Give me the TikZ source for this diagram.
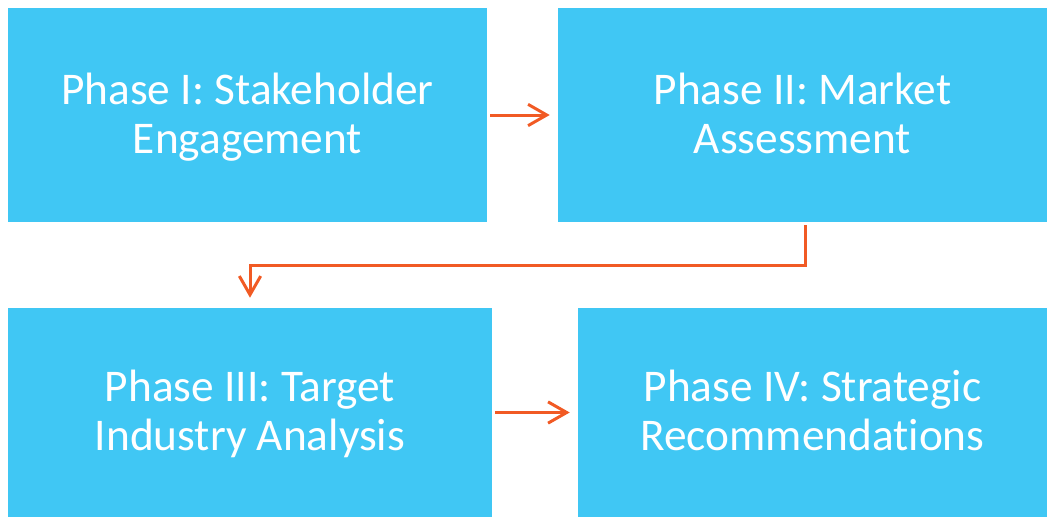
\documentclass[tikz,border=0pt]{standalone}
\usepackage{fontspec}
\setmainfont{Carlito}[Ligatures=NoCommon]
\usetikzlibrary{positioning,calc,arrows,arrows.meta}
\definecolor{phaseblue}{RGB}{64,199,244}
\definecolor{flowred}{RGB}{241,90,36}
\newcommand{\phstrut}{\rule[-8.25pt]{0pt}{36.75pt}}
\tikzset{font=\fontsize{34}{36.75}\selectfont}

\begin{document}
\begin{tikzpicture}[x=0.75pt, y=-0.75pt]
	\useasboundingbox (0, 0) rectangle (1049, 517);
	\begin{scope}
		\tikzstyle{every node}=[align=center, inner sep=0pt, fill=phaseblue, text=white]
		\tikzstyle{flow}=[draw=flowred, line width=2.25pt, -{Straight Barb[length=14pt, width=16pt]}]
		\node[minimum width=359.25pt, minimum height=160.5pt] (p1) at (247.5, 115) {\phstrut Phase I: Stakeholder\\\phstrut Engagement};
		\node[minimum width=366.75pt, minimum height=160.5pt] (p2) at (802.5, 115) {\phstrut Phase II: Market\\\phstrut Assessment};
		\node[minimum width=363pt, minimum height=156.75pt] (p3) at (250, 412.5) {\phstrut Phase III: Target\\\phstrut Industry Analysis};
		\node[minimum width=351.75pt, minimum height=156.75pt] (p4) at (812.5, 412.5) {\phstrut Phase IV: Strategic\\\phstrut Recommendations};

		\draw[flow] ([xshift=2.25pt]p1.east) -- ([xshift=-6pt]p2.west);
		\draw[flow] ([xshift=2.6pt, yshift=-2.25pt]p2.south) -- ++(0, 40) -| ([yshift=7.5pt]p3.north);
		\draw[flow] ([xshift=2.25pt]p3.east) -- ([xshift=-6pt]p4.west);
	\end{scope}
\end{tikzpicture}
\end{document}
